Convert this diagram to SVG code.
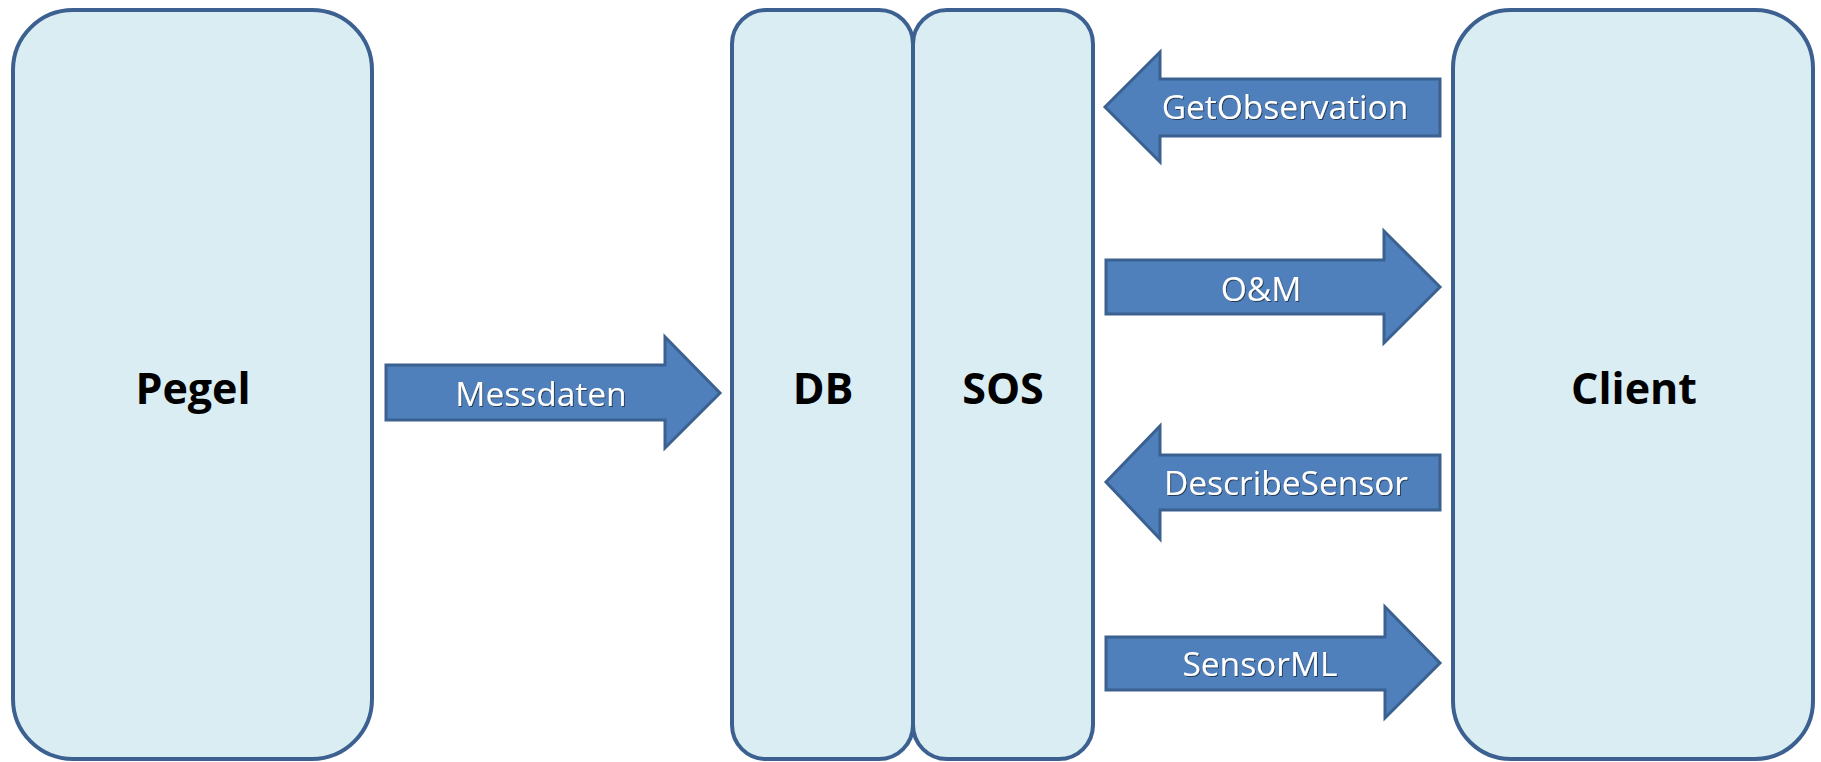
<svg xmlns="http://www.w3.org/2000/svg" width="1821" height="762" viewBox="0 0 1821 762">
<defs>
<style>
.box{fill:#DAEDF3;stroke:#3C6191;stroke-width:4}
.arr{fill:#4F80BC;stroke:#3A6190;stroke-width:3;stroke-linejoin:miter}
.title{font-family:"Open Sans",sans-serif;font-weight:bold;font-size:43px;fill:#000;text-anchor:middle}
.lbl{font-family:"Open Sans",sans-serif;font-size:33.5px;fill:#fff;text-anchor:middle;filter:url(#sh)}
</style>
<filter id="sh" x="-10%" y="-30%" width="120%" height="160%">
<feDropShadow dx="1" dy="1" stdDeviation="0.6" flood-color="#1a2a40" flood-opacity="0.8"/>
</filter>
</defs>
<rect width="1821" height="762" fill="#fff"/>
<g id="pegel">
<rect class="box" x="13" y="10" width="359" height="749" rx="60" ry="60"/>
<text class="title" x="193" y="404">Pegel</text>
</g>
<g id="db">
<rect class="box" x="732" y="10" width="181" height="749" rx="34" ry="34"/>
<text class="title" x="823" y="404">DB</text>
</g>
<g id="sos">
<rect class="box" x="913" y="10" width="180" height="749" rx="34" ry="34"/>
<text class="title" x="1003" y="404">SOS</text>
</g>
<g id="client">
<rect class="box" x="1453" y="10" width="360" height="749" rx="58" ry="58"/>
<text class="title" x="1634" y="404">Client</text>
</g>
<g id="connectors">
<g id="messdaten">
<polygon class="arr" points="386,365 665,365 665,337 720,393 665,448 665,420 386,420"/>
<text class="lbl" x="541" y="406">Messdaten</text>
</g>
<g id="getobservation">
<polygon class="arr" points="1440,79 1160,79 1160,52 1105,107 1160,162 1160,136 1440,136"/>
<text class="lbl" x="1285" y="119">GetObservation</text>
</g>
<g id="om">
<polygon class="arr" points="1106,260 1384,260 1384,231 1440,287 1384,343 1384,314 1106,314"/>
<text class="lbl" x="1261" y="301">O&amp;M</text>
</g>
<g id="describesensor">
<polygon class="arr" points="1440,455 1160,455 1160,426 1106,482 1160,539 1160,510 1440,510"/>
<text class="lbl" x="1286" y="495">DescribeSensor</text>
</g>
<g id="sensorml">
<polygon class="arr" points="1106,637 1385,637 1385,607 1440,663 1385,718 1385,690 1106,690"/>
<text class="lbl" x="1260" y="676">SensorML</text>
</g>
</g>
</svg>
